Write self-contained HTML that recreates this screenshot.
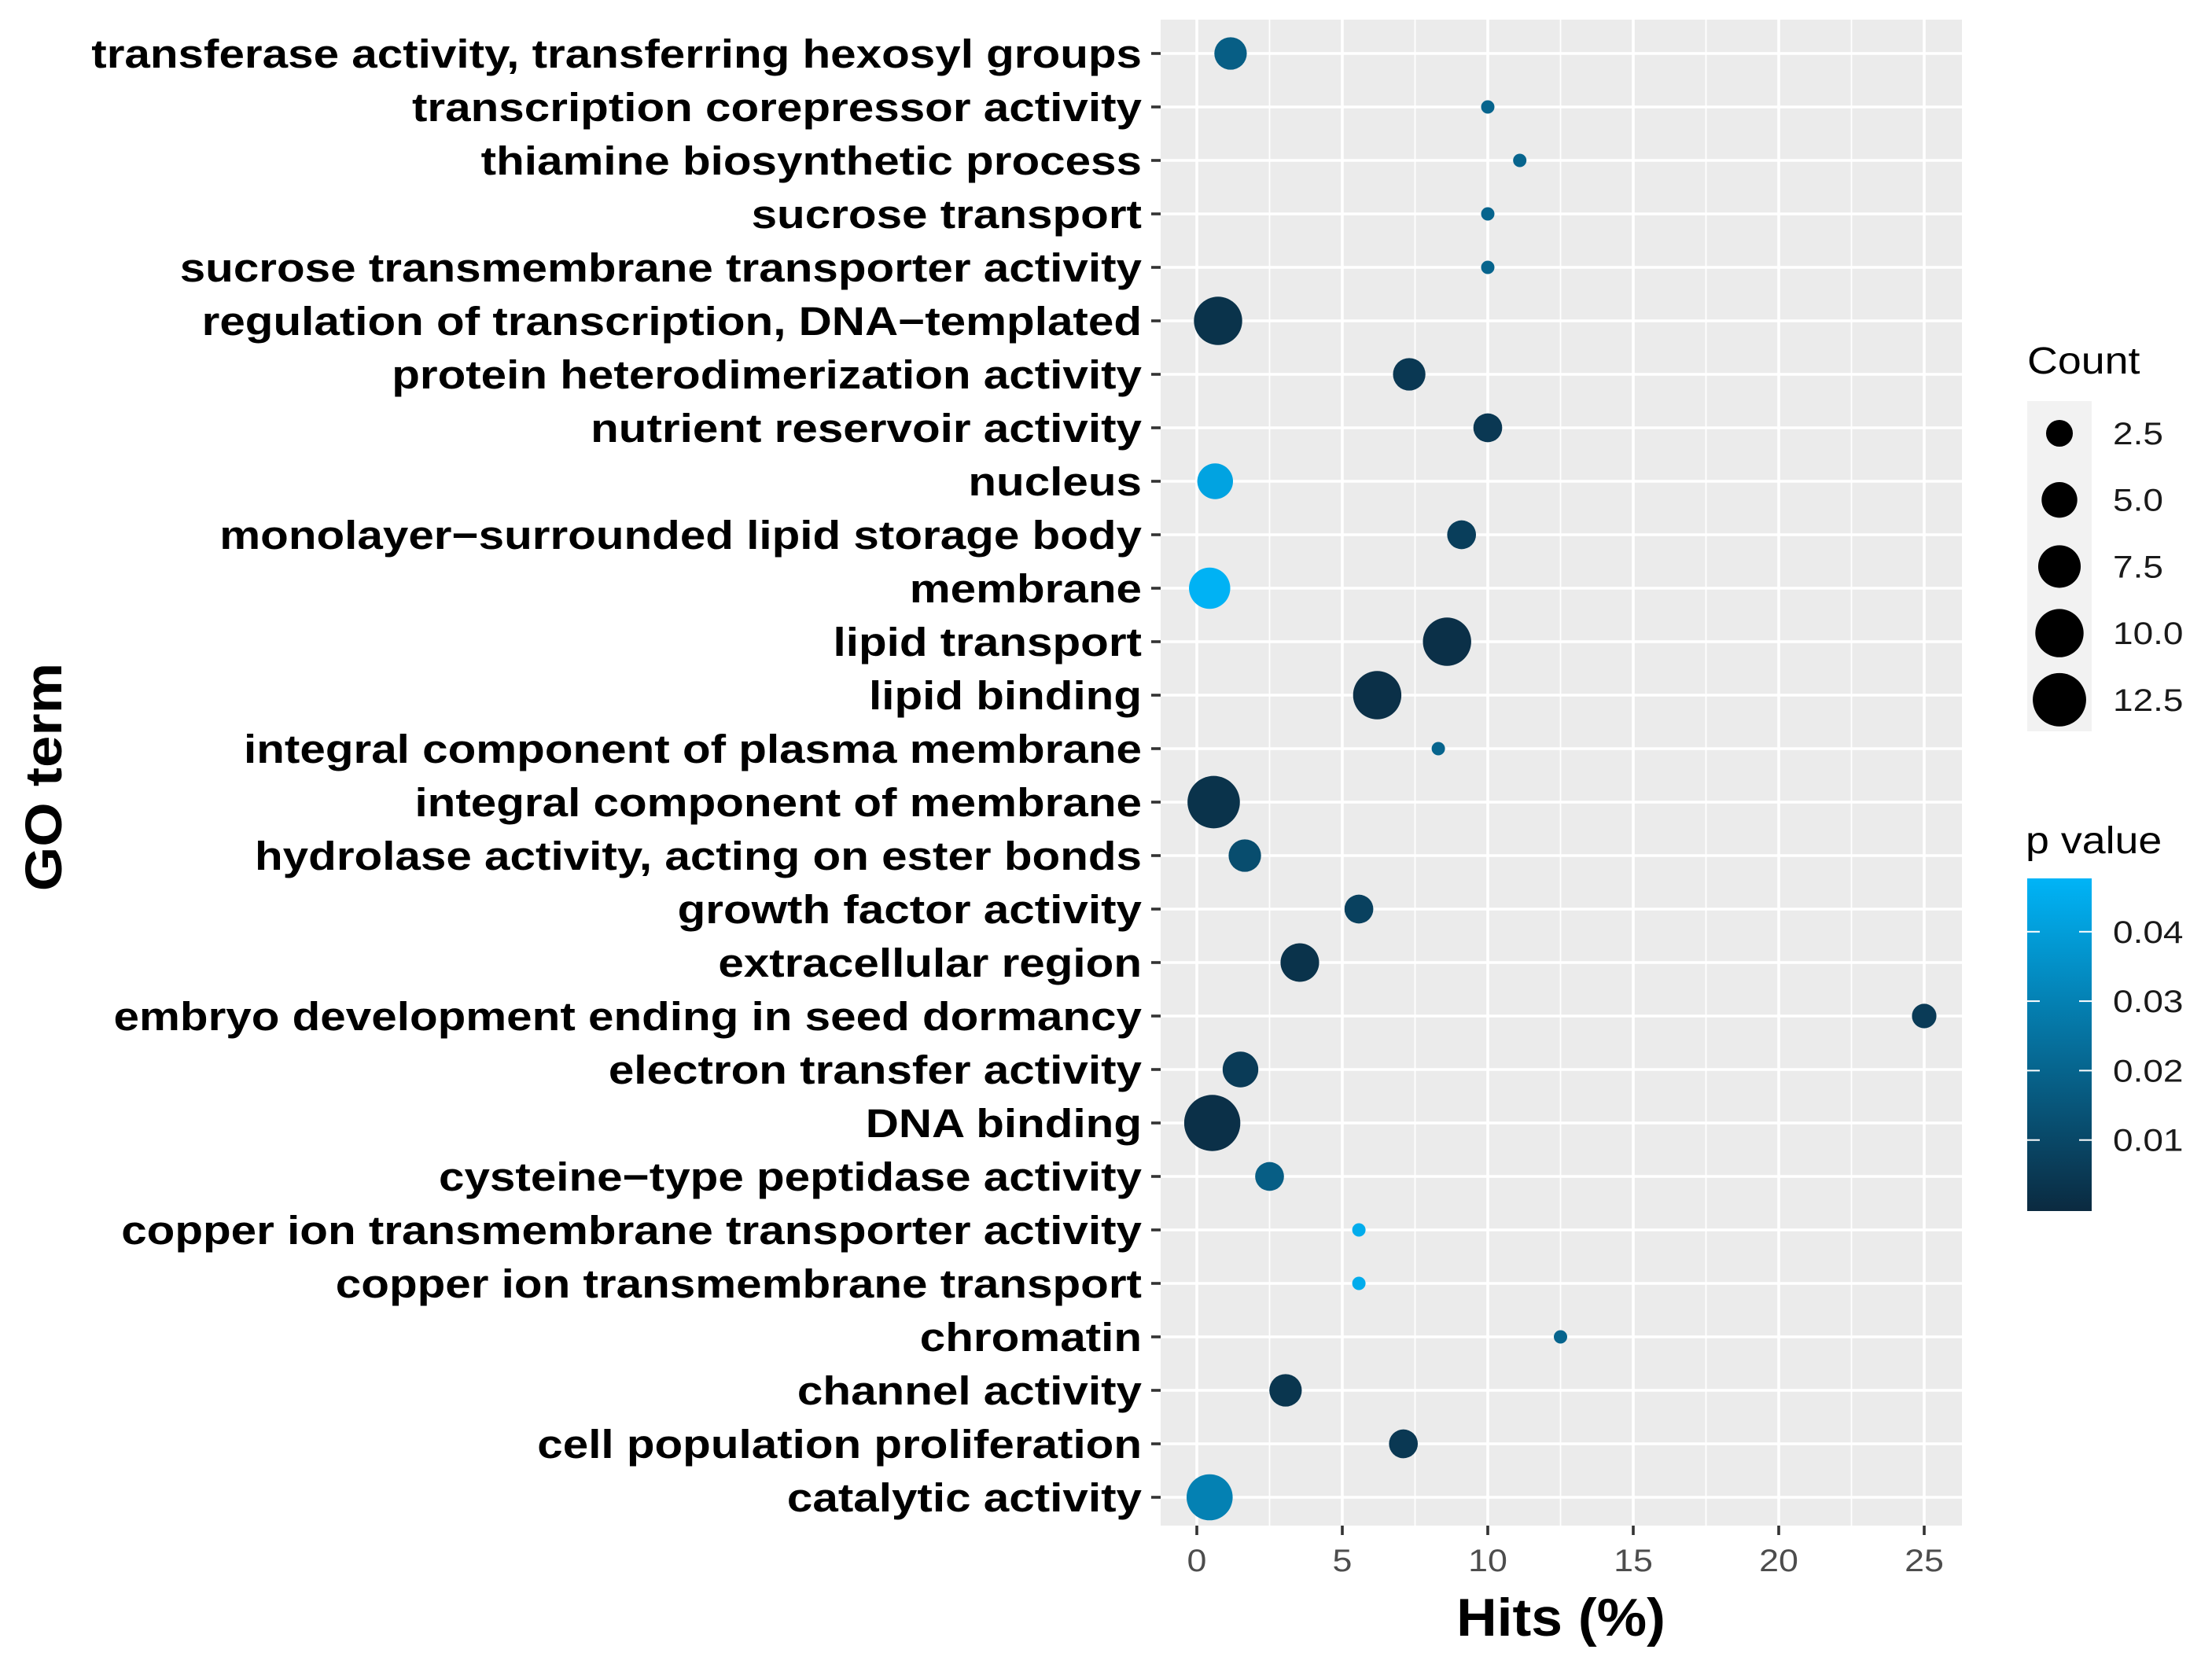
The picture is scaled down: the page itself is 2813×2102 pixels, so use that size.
<!DOCTYPE html>
<html><head><meta charset="utf-8"><style>
html,body{margin:0;padding:0;background:#fff;}
svg{display:block;font-family:"Liberation Sans",Arial,sans-serif;}
</style></head><body>
<svg id="chart" width="2813" height="2102" viewBox="0 0 2813 2102" xmlns="http://www.w3.org/2000/svg">
<defs><linearGradient id="pgrad" x1="0" y1="1" x2="0" y2="0">
<stop offset="0" stop-color="#0b2a40"/><stop offset="1" stop-color="#00b4f7"/></linearGradient></defs>
<rect x="1476" y="25" width="1019" height="1915" fill="#ebebeb"/>
<g id="grid"></g><g id="points"></g><g id="yaxis"></g><g id="xaxis"></g>
<text transform="translate(78,988) rotate(-90) scale(1.1,1)" text-anchor="middle" font-size="66" font-weight="bold">GO term</text>
<text transform="translate(1985,2080) scale(1.05,1)" text-anchor="middle" font-size="68" font-weight="bold">Hits (%)</text>
<g>
<text transform="translate(2578,475) scale(1.12,1)" font-size="48">Count</text>
<rect x="2578" y="510" width="82" height="420" fill="#f2f2f2"/>
<g id="sizeleg"></g></g>
<g>
<text transform="translate(2576,1085) scale(1.12,1)" font-size="48">p value</text>
<rect x="2578" y="1117" width="82" height="423" fill="url(#pgrad)"/>
<g id="colleg"></g></g>
</svg>
<script>
const terms=["transferase activity, transferring hexosyl groups","transcription corepressor activity","thiamine biosynthetic process","sucrose transport","sucrose transmembrane transporter activity","regulation of transcription, DNA\u2212templated","protein heterodimerization activity","nutrient reservoir activity","nucleus","monolayer\u2212surrounded lipid storage body","membrane","lipid transport","lipid binding","integral component of plasma membrane","integral component of membrane","hydrolase activity, acting on ester bonds","growth factor activity","extracellular region","embryo development ending in seed dormancy","electron transfer activity","DNA binding","cysteine\u2212type peptidase activity","copper ion transmembrane transporter activity","copper ion transmembrane transport","chromatin","channel activity","cell population proliferation","catalytic activity"];
const hits=[1.16,10.0,11.1,10.0,10.0,0.73,7.3,10.0,0.63,9.1,0.44,8.6,6.2,8.3,0.58,1.65,5.57,3.54,25.0,1.5,0.53,2.5,5.57,5.57,12.5,3.05,7.1,0.44];
const counts=[4,1,1,1,1,10,4,3,5,3,7,10,10,1,12,4,3,6,2,5,14,3,1,1,1,4,3,9];
const pvals=[0.018,0.02,0.02,0.02,0.02,0.003,0.005,0.005,0.042,0.007,0.047,0.002,0.002,0.02,0.003,0.012,0.008,0.003,0.006,0.006,0.002,0.018,0.045,0.045,0.02,0.004,0.005,0.03];
const xTicks=[0,5,10,15,20,25];
const sizeBreaks=[2.5,5.0,7.5,10.0,12.5];
const pBreaks=[0.01,0.02,0.03,0.04];
const NS="http://www.w3.org/2000/svg";
const X=v=>1522+v*37.0;
const Y=i=>68+i*68.0;
const D=c=>c<=1?17:6.7+17.3*Math.sqrt(c);
const P=p=>1538-p*8830;
function col(p){const t=Math.max(0,Math.min(1,p/0.0478));const a=[11,42,64],b=[0,180,247];
return `rgb(${a.map((v,k)=>Math.round(v+(b[k]-v)*t)).join(',')})`;}
function mk(tag,attrs,parent){const e=document.createElementNS(NS,tag);for(const k in attrs)e.setAttribute(k,attrs[k]);parent.appendChild(e);return e;}
const grid=document.getElementById('grid'),pts=document.getElementById('points'),ya=document.getElementById('yaxis'),xa=document.getElementById('xaxis');
for(let v=-2.5;v<=27.5;v+=5){const x=X(v);if(x<1476||x>2495)continue;
const l=mk('line',{x1:x,x2:x,y1:25,y2:1940,stroke:'#fff','stroke-width':1.8},grid);

}
xTicks.forEach(v=>{const x=X(v);
const l=mk('line',{x1:x,x2:x,y1:25,y2:1940,stroke:'#fff','stroke-width':3.6},grid);


const t=mk('line',{x1:x,x2:x,y1:1940,y2:1952,stroke:'#333','stroke-width':3.6},xa);


const tx=mk('text',{transform:`translate(${x},1998) scale(1.12,1)`,'text-anchor':'middle','font-size':40,fill:'#4d4d4d'},xa);tx.textContent=v;

});
terms.forEach((s,i)=>{const y=Y(i);
const l=mk('line',{x1:1476,x2:2495,y1:y,y2:y,stroke:'#fff','stroke-width':3.6},grid);


const t=mk('line',{x1:1464,x2:1476,y1:y,y2:y,stroke:'#333','stroke-width':3.6},ya);


const tx=mk('text',{transform:`translate(1452,${y+18}) scale(1.145,1)`,'text-anchor':'end','font-size':51,'font-weight':'bold',fill:'#000'},ya);tx.textContent=s;


const c=mk('circle',{cx:X(hits[i]),cy:y,r:D(counts[i])/2,fill:col(pvals[i])},pts);

});
const sl=document.getElementById('sizeleg');
sizeBreaks.forEach((c,i)=>{const y=551+i*84.7;
const e=mk('circle',{cx:2619,cy:y,r:D(c)/2,fill:'#000'},sl);


const t=mk('text',{transform:`translate(2687,${y+14}) scale(1.15,1)`,'font-size':40,fill:'#1a1a1a'},sl);t.textContent=c.toFixed(1);

});
const cl=document.getElementById('colleg');
pBreaks.forEach(p=>{const y=P(p);
const a=mk('line',{x1:2578,x2:2594,y1:y,y2:y,stroke:'#fff','stroke-width':2},cl);


const b=mk('line',{x1:2644,x2:2660,y1:y,y2:y,stroke:'#fff','stroke-width':2},cl);


const t=mk('text',{transform:`translate(2687,${y+14}) scale(1.15,1)`,'font-size':40,fill:'#1a1a1a'},cl);t.textContent=p.toFixed(2);

});
</script>
</body></html>
